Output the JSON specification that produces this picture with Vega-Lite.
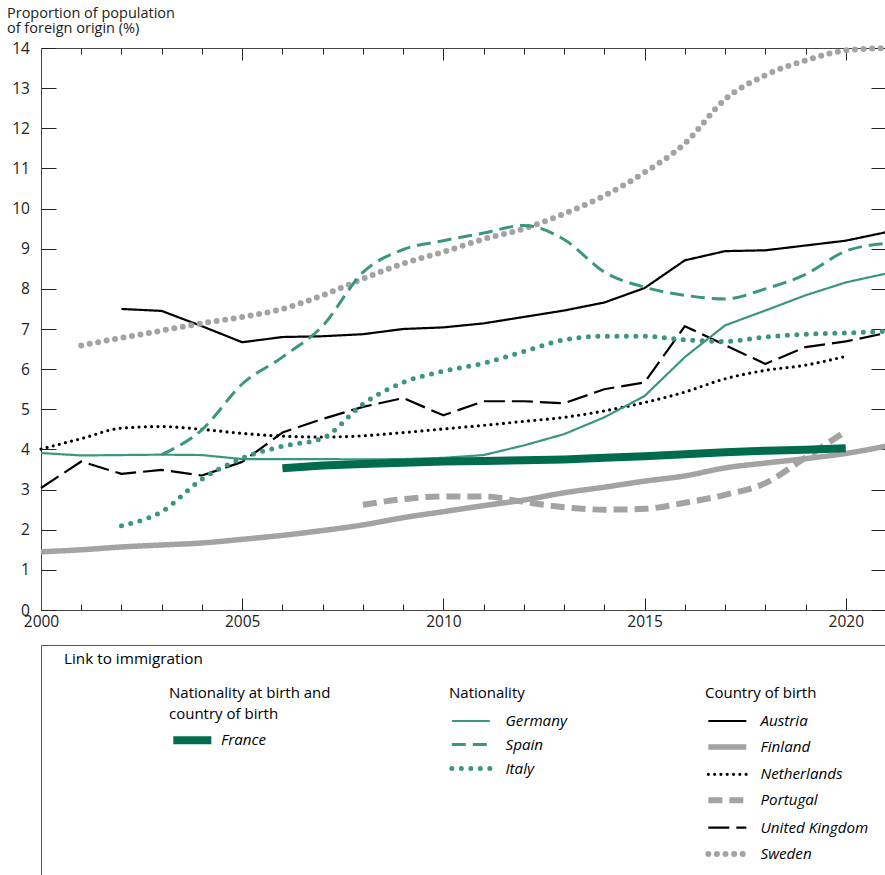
{
  "$schema": "https://vega.github.io/schema/vega-lite/v6.json",
  "padding": {"left": 6, "top": 5, "right": 0, "bottom": 0},
  "spacing": 35,
  "bounds": "flush",
  "config": {
    "font": "Open Sans",
    "view": {"stroke": null},
    "axis": {"grid": false, "domainColor": "#444", "tickColor": "#222", "labelColor": "#222", "labelFontSize": 15.5, "labelFont": "Open Sans", "titleColor": "#222"},
    "legend": {"orient": "none", "padding": 0, "labelFont": "Open Sans", "labelFontStyle": "italic", "labelFontSize": 15.2, "labelColor": "#000", "titleFont": "Open Sans", "titleFontSize": 15, "titleFontWeight": "normal", "titleColor": "#000", "symbolType": "M-1,0H2", "symbolSize": 642}
  },
  "vconcat": [
    {
      "width": 845,
      "height": 562,
      "view": {"stroke": null},
      "data": {"values": [
        {"series": "Austria", "year": 2002, "value": 7.5}, {"series": "Austria", "year": 2003, "value": 7.45}, {"series": "Austria", "year": 2004, "value": 7.07}, {"series": "Austria", "year": 2005, "value": 6.67}, {"series": "Austria", "year": 2006, "value": 6.8}, {"series": "Austria", "year": 2007, "value": 6.82}, {"series": "Austria", "year": 2008, "value": 6.87}, {"series": "Austria", "year": 2009, "value": 7.0}, {"series": "Austria", "year": 2010, "value": 7.04}, {"series": "Austria", "year": 2011, "value": 7.14}, {"series": "Austria", "year": 2012, "value": 7.3}, {"series": "Austria", "year": 2013, "value": 7.46}, {"series": "Austria", "year": 2014, "value": 7.66}, {"series": "Austria", "year": 2015, "value": 8.02}, {"series": "Austria", "year": 2016, "value": 8.71}, {"series": "Austria", "year": 2017, "value": 8.94}, {"series": "Austria", "year": 2018, "value": 8.96}, {"series": "Austria", "year": 2019, "value": 9.08}, {"series": "Austria", "year": 2020, "value": 9.2}, {"series": "Austria", "year": 2021, "value": 9.41},
        {"series": "Finland", "year": 2000, "value": 1.45}, {"series": "Finland", "year": 2001, "value": 1.5}, {"series": "Finland", "year": 2002, "value": 1.57}, {"series": "Finland", "year": 2003, "value": 1.62}, {"series": "Finland", "year": 2004, "value": 1.67}, {"series": "Finland", "year": 2005, "value": 1.76}, {"series": "Finland", "year": 2006, "value": 1.86}, {"series": "Finland", "year": 2007, "value": 1.98}, {"series": "Finland", "year": 2008, "value": 2.12}, {"series": "Finland", "year": 2009, "value": 2.3}, {"series": "Finland", "year": 2010, "value": 2.45}, {"series": "Finland", "year": 2011, "value": 2.6}, {"series": "Finland", "year": 2012, "value": 2.74}, {"series": "Finland", "year": 2013, "value": 2.92}, {"series": "Finland", "year": 2014, "value": 3.06}, {"series": "Finland", "year": 2015, "value": 3.21}, {"series": "Finland", "year": 2016, "value": 3.34}, {"series": "Finland", "year": 2017, "value": 3.54}, {"series": "Finland", "year": 2018, "value": 3.66}, {"series": "Finland", "year": 2019, "value": 3.77}, {"series": "Finland", "year": 2020, "value": 3.9}, {"series": "Finland", "year": 2021, "value": 4.08},
        {"series": "Netherlands", "year": 2000, "value": 4.01}, {"series": "Netherlands", "year": 2001, "value": 4.27}, {"series": "Netherlands", "year": 2002, "value": 4.53}, {"series": "Netherlands", "year": 2003, "value": 4.57}, {"series": "Netherlands", "year": 2004, "value": 4.5}, {"series": "Netherlands", "year": 2005, "value": 4.4}, {"series": "Netherlands", "year": 2006, "value": 4.33}, {"series": "Netherlands", "year": 2007, "value": 4.31}, {"series": "Netherlands", "year": 2008, "value": 4.34}, {"series": "Netherlands", "year": 2009, "value": 4.42}, {"series": "Netherlands", "year": 2010, "value": 4.51}, {"series": "Netherlands", "year": 2011, "value": 4.6}, {"series": "Netherlands", "year": 2012, "value": 4.7}, {"series": "Netherlands", "year": 2013, "value": 4.8}, {"series": "Netherlands", "year": 2014, "value": 4.96}, {"series": "Netherlands", "year": 2015, "value": 5.17}, {"series": "Netherlands", "year": 2016, "value": 5.43}, {"series": "Netherlands", "year": 2017, "value": 5.76}, {"series": "Netherlands", "year": 2018, "value": 5.97}, {"series": "Netherlands", "year": 2019, "value": 6.1}, {"series": "Netherlands", "year": 2020, "value": 6.32},
        {"series": "Portugal", "year": 2008, "value": 2.62}, {"series": "Portugal", "year": 2009, "value": 2.76}, {"series": "Portugal", "year": 2010, "value": 2.83}, {"series": "Portugal", "year": 2011, "value": 2.83}, {"series": "Portugal", "year": 2012, "value": 2.69}, {"series": "Portugal", "year": 2013, "value": 2.56}, {"series": "Portugal", "year": 2014, "value": 2.5}, {"series": "Portugal", "year": 2015, "value": 2.52}, {"series": "Portugal", "year": 2016, "value": 2.67}, {"series": "Portugal", "year": 2017, "value": 2.87}, {"series": "Portugal", "year": 2018, "value": 3.16}, {"series": "Portugal", "year": 2019, "value": 3.8}, {"series": "Portugal", "year": 2020, "value": 4.45},
        {"series": "United Kingdom", "year": 2000, "value": 3.04}, {"series": "United Kingdom", "year": 2001, "value": 3.7}, {"series": "United Kingdom", "year": 2002, "value": 3.39}, {"series": "United Kingdom", "year": 2003, "value": 3.49}, {"series": "United Kingdom", "year": 2004, "value": 3.35}, {"series": "United Kingdom", "year": 2005, "value": 3.69}, {"series": "United Kingdom", "year": 2006, "value": 4.42}, {"series": "United Kingdom", "year": 2007, "value": 4.76}, {"series": "United Kingdom", "year": 2008, "value": 5.06}, {"series": "United Kingdom", "year": 2009, "value": 5.28}, {"series": "United Kingdom", "year": 2010, "value": 4.85}, {"series": "United Kingdom", "year": 2011, "value": 5.2}, {"series": "United Kingdom", "year": 2012, "value": 5.2}, {"series": "United Kingdom", "year": 2013, "value": 5.15}, {"series": "United Kingdom", "year": 2014, "value": 5.5}, {"series": "United Kingdom", "year": 2015, "value": 5.67}, {"series": "United Kingdom", "year": 2016, "value": 7.07}, {"series": "United Kingdom", "year": 2017, "value": 6.6}, {"series": "United Kingdom", "year": 2018, "value": 6.13}, {"series": "United Kingdom", "year": 2019, "value": 6.55}, {"series": "United Kingdom", "year": 2020, "value": 6.69}, {"series": "United Kingdom", "year": 2021, "value": 6.9},
        {"series": "Sweden", "year": 2001, "value": 6.59}, {"series": "Sweden", "year": 2002, "value": 6.78}, {"series": "Sweden", "year": 2003, "value": 6.96}, {"series": "Sweden", "year": 2004, "value": 7.14}, {"series": "Sweden", "year": 2005, "value": 7.3}, {"series": "Sweden", "year": 2006, "value": 7.5}, {"series": "Sweden", "year": 2007, "value": 7.84}, {"series": "Sweden", "year": 2008, "value": 8.25}, {"series": "Sweden", "year": 2009, "value": 8.63}, {"series": "Sweden", "year": 2010, "value": 8.92}, {"series": "Sweden", "year": 2011, "value": 9.24}, {"series": "Sweden", "year": 2012, "value": 9.5}, {"series": "Sweden", "year": 2013, "value": 9.87}, {"series": "Sweden", "year": 2014, "value": 10.32}, {"series": "Sweden", "year": 2015, "value": 10.9}, {"series": "Sweden", "year": 2016, "value": 11.62}, {"series": "Sweden", "year": 2017, "value": 12.72}, {"series": "Sweden", "year": 2018, "value": 13.32}, {"series": "Sweden", "year": 2019, "value": 13.69}, {"series": "Sweden", "year": 2020, "value": 13.94}, {"series": "Sweden", "year": 2021, "value": 14.0},
        {"series": "Germany", "year": 2000, "value": 3.91}, {"series": "Germany", "year": 2001, "value": 3.85}, {"series": "Germany", "year": 2002, "value": 3.86}, {"series": "Germany", "year": 2003, "value": 3.87}, {"series": "Germany", "year": 2004, "value": 3.86}, {"series": "Germany", "year": 2005, "value": 3.76}, {"series": "Germany", "year": 2006, "value": 3.76}, {"series": "Germany", "year": 2007, "value": 3.76}, {"series": "Germany", "year": 2008, "value": 3.75}, {"series": "Germany", "year": 2009, "value": 3.76}, {"series": "Germany", "year": 2010, "value": 3.79}, {"series": "Germany", "year": 2011, "value": 3.86}, {"series": "Germany", "year": 2012, "value": 4.1}, {"series": "Germany", "year": 2013, "value": 4.38}, {"series": "Germany", "year": 2014, "value": 4.8}, {"series": "Germany", "year": 2015, "value": 5.33}, {"series": "Germany", "year": 2016, "value": 6.3}, {"series": "Germany", "year": 2017, "value": 7.09}, {"series": "Germany", "year": 2018, "value": 7.46}, {"series": "Germany", "year": 2019, "value": 7.84}, {"series": "Germany", "year": 2020, "value": 8.16}, {"series": "Germany", "year": 2021, "value": 8.38},
        {"series": "Spain", "year": 2003, "value": 3.87}, {"series": "Spain", "year": 2004, "value": 4.49}, {"series": "Spain", "year": 2005, "value": 5.63}, {"series": "Spain", "year": 2006, "value": 6.3}, {"series": "Spain", "year": 2007, "value": 7.08}, {"series": "Spain", "year": 2008, "value": 8.41}, {"series": "Spain", "year": 2009, "value": 8.98}, {"series": "Spain", "year": 2010, "value": 9.2}, {"series": "Spain", "year": 2011, "value": 9.39}, {"series": "Spain", "year": 2012, "value": 9.58}, {"series": "Spain", "year": 2013, "value": 9.23}, {"series": "Spain", "year": 2014, "value": 8.42}, {"series": "Spain", "year": 2015, "value": 8.04}, {"series": "Spain", "year": 2016, "value": 7.84}, {"series": "Spain", "year": 2017, "value": 7.75}, {"series": "Spain", "year": 2018, "value": 8.0}, {"series": "Spain", "year": 2019, "value": 8.36}, {"series": "Spain", "year": 2020, "value": 8.94}, {"series": "Spain", "year": 2021, "value": 9.13},
        {"series": "Italy", "year": 2002, "value": 2.1}, {"series": "Italy", "year": 2003, "value": 2.45}, {"series": "Italy", "year": 2004, "value": 3.26}, {"series": "Italy", "year": 2005, "value": 3.78}, {"series": "Italy", "year": 2006, "value": 4.08}, {"series": "Italy", "year": 2007, "value": 4.28}, {"series": "Italy", "year": 2008, "value": 5.13}, {"series": "Italy", "year": 2009, "value": 5.67}, {"series": "Italy", "year": 2010, "value": 5.95}, {"series": "Italy", "year": 2011, "value": 6.15}, {"series": "Italy", "year": 2012, "value": 6.44}, {"series": "Italy", "year": 2013, "value": 6.73}, {"series": "Italy", "year": 2014, "value": 6.82}, {"series": "Italy", "year": 2015, "value": 6.82}, {"series": "Italy", "year": 2016, "value": 6.73}, {"series": "Italy", "year": 2017, "value": 6.69}, {"series": "Italy", "year": 2018, "value": 6.8}, {"series": "Italy", "year": 2019, "value": 6.87}, {"series": "Italy", "year": 2020, "value": 6.9}, {"series": "Italy", "year": 2021, "value": 6.94},
        {"series": "France", "year": 2006, "value": 3.53}, {"series": "France", "year": 2007, "value": 3.6}, {"series": "France", "year": 2008, "value": 3.64}, {"series": "France", "year": 2009, "value": 3.67}, {"series": "France", "year": 2010, "value": 3.7}, {"series": "France", "year": 2011, "value": 3.71}, {"series": "France", "year": 2012, "value": 3.73}, {"series": "France", "year": 2013, "value": 3.75}, {"series": "France", "year": 2014, "value": 3.79}, {"series": "France", "year": 2015, "value": 3.83}, {"series": "France", "year": 2016, "value": 3.88}, {"series": "France", "year": 2017, "value": 3.93}, {"series": "France", "year": 2018, "value": 3.97}, {"series": "France", "year": 2019, "value": 3.99}, {"series": "France", "year": 2020, "value": 4.03}
      ]},
      "encoding": {
        "x": {"field": "year", "type": "quantitative", "scale": {"domain": [2000, 2021], "nice": false, "zero": false}, "axis": null},
        "y": {"field": "value", "type": "quantitative", "scale": {"domain": [0, 14], "nice": false, "zero": false}, "axis": null}
      },
      "layer": [
        {
          "transform": [{"filter": "indexof(['Austria','Finland','Netherlands','Portugal','United Kingdom','Sweden'], datum.series) >= 0"}],
          "mark": {"type": "line", "strokeJoin": "round",
                   "strokeCap": {"expr": "datum.series === 'Netherlands' || datum.series === 'Sweden' ? 'round' : 'butt'"},
                   "interpolate": {"expr": "datum.series === 'Austria' || datum.series === 'United Kingdom' ? 'linear' : 'monotone'"}},
          "encoding": {
            "color": {"field": "series", "type": "nominal",
                      "scale": {"domain": ["Austria", "Finland", "Netherlands", "Portugal", "United Kingdom", "Sweden"], "range": ["#000000", "#a3a3a3", "#000000", "#a3a3a3", "#000000", "#a3a3a3"]},
                      "legend": {"title": "Country of birth", "legendX": 664, "legendY": 638, "titlePadding": 6, "rowPadding": 1.4, "labelOffset": 23.5,
                                 "encode": {"symbols": {"update": {"strokeCap": {"signal": "datum.value === 'Netherlands' || datum.value === 'Sweden' ? 'round' : 'butt'"}}}}}},
            "strokeDash": {"field": "series", "type": "nominal",
                           "scale": {"domain": ["Austria", "Finland", "Netherlands", "Portugal", "United Kingdom", "Sweden"], "range": [[1, 0], [1, 0], [0, 6.3], [14, 7], [21, 7], [0, 8.6]]},
                           "legend": {"title": "Country of birth", "legendX": 664, "legendY": 638, "titlePadding": 6, "rowPadding": 1.4, "labelOffset": 23.5}},
            "strokeWidth": {"field": "series", "type": "nominal",
                            "scale": {"type": "ordinal", "domain": ["Austria", "Finland", "Netherlands", "Portugal", "United Kingdom", "Sweden"], "range": [2.2, 5.5, 3.2, 6, 2.2, 6]},
                            "legend": {"title": "Country of birth", "legendX": 664, "legendY": 638, "titlePadding": 6, "rowPadding": 1.4, "labelOffset": 23.5}}
          }
        },
        {
          "transform": [{"filter": "indexof(['Germany','Spain','Italy'], datum.series) >= 0"}],
          "mark": {"type": "line", "strokeJoin": "round",
                   "strokeCap": {"expr": "datum.series === 'Italy' ? 'round' : 'butt'"},
                   "interpolate": {"expr": "datum.series === 'Germany' ? 'linear' : 'monotone'"}},
          "encoding": {
            "x": {"field": "year", "type": "quantitative", "scale": {"domain": [2000, 2021], "nice": false, "zero": false},
                  "axis": {"orient": "top", "values": [2000, 2001, 2002, 2003, 2004, 2005, 2006, 2007, 2008, 2009, 2010, 2011, 2012, 2013, 2014, 2015, 2016, 2017, 2018, 2019, 2020, 2021], "labels": false, "title": null,
                           "tickSize": {"condition": {"test": "datum.value % 5 === 0", "value": -12}, "value": -6}}},
            "y": {"field": "value", "type": "quantitative", "scale": {"domain": [0, 14], "nice": false, "zero": false},
                  "axis": {"orient": "right", "values": [0, 1, 2, 3, 4, 5, 6, 7, 8, 9, 10, 11, 12, 13, 14], "labels": false, "title": null, "tickSize": -15}},
            "color": {"field": "series", "type": "nominal",
                      "scale": {"domain": ["Germany", "Spain", "Italy"], "range": ["#3a9680", "#3a9680", "#3a9680"]},
                      "legend": {"title": "Nationality", "legendX": 408, "legendY": 638, "titlePadding": 6, "rowPadding": 0, "labelOffset": 25.5,
                                 "encode": {"symbols": {"update": {"strokeCap": {"signal": "datum.value === 'Italy' ? 'round' : 'butt'"}}}}}},
            "strokeDash": {"field": "series", "type": "nominal",
                           "scale": {"domain": ["Germany", "Spain", "Italy"], "range": [[1, 0], [14, 7], [0, 9.5]]},
                           "legend": {"title": "Nationality", "legendX": 408, "legendY": 638, "titlePadding": 6, "rowPadding": 0, "labelOffset": 25.5}},
            "strokeWidth": {"field": "series", "type": "nominal",
                            "scale": {"type": "ordinal", "domain": ["Germany", "Spain", "Italy"], "range": [2.2, 3, 5]},
                            "legend": {"title": "Nationality", "legendX": 408, "legendY": 638, "titlePadding": 6, "rowPadding": 0, "labelOffset": 25.5}}
          }
        },
        {
          "transform": [{"filter": "datum.series === 'France'"}],
          "mark": {"type": "line", "strokeWidth": 8, "strokeCap": "butt"},
          "encoding": {
            "x": {"field": "year", "type": "quantitative", "scale": {"domain": [2000, 2021], "nice": false, "zero": false},
                  "axis": {"orient": "bottom", "values": [2000, 2001, 2002, 2003, 2004, 2005, 2006, 2007, 2008, 2009, 2010, 2011, 2012, 2013, 2014, 2015, 2016, 2017, 2018, 2019, 2020, 2021], "format": "d", "title": null,
                           "labelExpr": "datum.value % 5 === 0 ? datum.label : ''", "labelFlush": false, "labelOverlap": false, "labelPadding": 16,
                           "tickSize": {"condition": {"test": "datum.value % 5 === 0", "value": -12}, "value": -6}}},
            "y": {"field": "value", "type": "quantitative", "scale": {"domain": [0, 14], "nice": false, "zero": false},
                  "axis": {"orient": "left", "values": [0, 1, 2, 3, 4, 5, 6, 7, 8, 9, 10, 11, 12, 13, 14], "tickSize": -15, "labelPadding": 26.6, "labelOverlap": false,
                           "title": ["Proportion of population", "of foreign origin (%)"], "titleAngle": 0, "titleAlign": "left", "titleBaseline": "top",
                           "titleX": -34.5, "titleY": -42, "titleFontSize": 14.5, "titleFontWeight": "normal", "titleLineHeight": 15}},
            "color": {"field": "series", "type": "nominal",
                      "scale": {"domain": ["France"], "range": ["#006b4f"]},
                      "legend": {"title": ["Nationality at birth and", "country of birth"], "titleLineHeight": 21, "legendX": 128, "legendY": 638, "titlePadding": 1.3, "labelOffset": 18, "symbolStrokeWidth": 8}}
          }
        }
      ],
      "resolve": {
        "scale": {"color": "independent", "strokeDash": "independent", "strokeWidth": "independent"},
        "legend": {"color": "independent", "strokeDash": "independent", "strokeWidth": "independent"},
        "axis": {"x": "independent", "y": "independent"}
      }
    },
    {
      "width": 845,
      "height": 240,
      "view": {"stroke": "#555", "strokeWidth": 1},
      "data": {"values": []},
      "mark": "point",
      "title": {"text": "Link to immigration", "anchor": "start", "offset": -22, "dx": 23, "fontSize": 15.3, "fontWeight": "normal", "font": "Open Sans", "color": "#000"}
    }
  ]
}
